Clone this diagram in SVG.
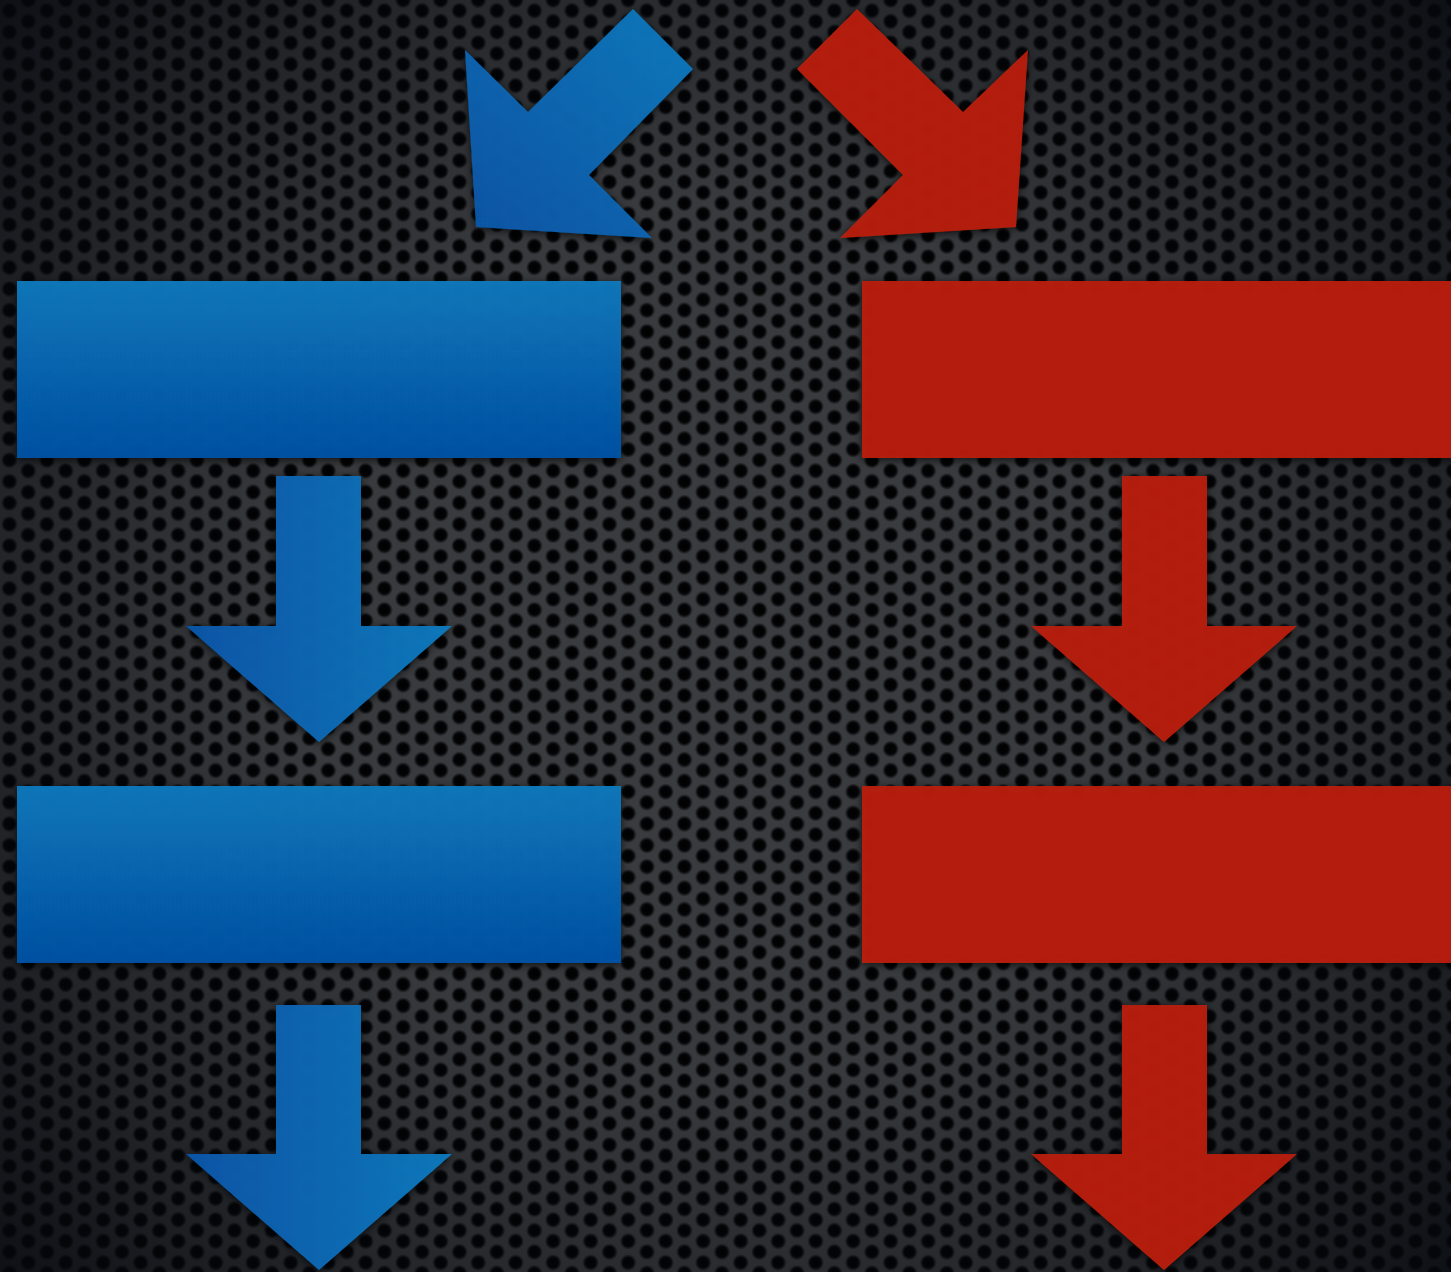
<svg xmlns="http://www.w3.org/2000/svg" width="1451" height="1272" viewBox="0 0 1451 1272">
  <defs>
    <radialGradient id="hole" cx="0.5" cy="0.5" r="0.5">
      <stop offset="0" stop-color="#000" stop-opacity="1"/>
      <stop offset="0.62" stop-color="#020204" stop-opacity="0.97"/>
      <stop offset="1" stop-color="#000" stop-opacity="0"/>
    </radialGradient>
    <pattern id="mesh" x="0" y="0" width="37.5" height="21.4" patternUnits="userSpaceOnUse">
      <circle cx="9.4" cy="10.7" r="8.4" fill="url(#hole)"/>
      <circle cx="28.15" cy="0" r="8.4" fill="url(#hole)"/>
      <circle cx="28.15" cy="21.4" r="8.4" fill="url(#hole)"/>
    </pattern>
    <radialGradient id="vignette" cx="725" cy="640" r="980" gradientUnits="userSpaceOnUse">
      <stop offset="0" stop-color="#04070c" stop-opacity="0"/>
      <stop offset="0.45" stop-color="#04070c" stop-opacity="0.05"/>
      <stop offset="0.75" stop-color="#04070c" stop-opacity="0.45"/>
      <stop offset="1" stop-color="#04070c" stop-opacity="0.85"/>
    </radialGradient>
    <linearGradient id="blueRect" x1="0" y1="0" x2="0" y2="1">
      <stop offset="0" stop-color="#087abe"/>
      <stop offset="1" stop-color="#0652a6"/>
    </linearGradient>
    <linearGradient id="blueArrow" x1="0" y1="1" x2="1" y2="0">
      <stop offset="0" stop-color="#0755a8"/>
      <stop offset="1" stop-color="#0a7cc0"/>
    </linearGradient>
    <linearGradient id="blueDown" x1="0" y1="0.5" x2="1" y2="0.5">
      <stop offset="0" stop-color="#0757aa"/>
      <stop offset="1" stop-color="#0a7bc0"/>
    </linearGradient>
    <filter id="shadow" x="-10%" y="-10%" width="120%" height="120%">
      <feDropShadow dx="0" dy="2" stdDeviation="4" flood-color="#000" flood-opacity="0.75"/>
    </filter>
    <style>
      .blue-rect { fill: url(#blueRect); fill-opacity: 0.94; filter: url(#shadow); }
      .red-rect { fill: #ba1f08; fill-opacity: 0.94; filter: url(#shadow); }
      .blue-arrow { fill: url(#blueArrow); fill-opacity: 0.94; filter: url(#shadow); }
      .blue-down { fill: url(#blueDown); fill-opacity: 0.94; filter: url(#shadow); }
      .red-arrow { fill: #b91f0a; fill-opacity: 0.94; filter: url(#shadow); }
    </style>
  </defs>

  <!-- background -->
  <rect x="0" y="0" width="1451" height="1272" fill="#3a3c3f"/>
  <rect x="0" y="0" width="1451" height="1272" fill="url(#mesh)"/>
  <rect x="0" y="0" width="1451" height="1272" fill="url(#vignette)"/>

  <g id="node-blue-1"><rect class="blue-rect" x="17" y="281" width="604" height="177"/></g>
  <g id="node-blue-2"><rect class="blue-rect" x="17" y="786" width="604" height="177"/></g>
  <g id="node-red-1"><rect class="red-rect" x="862" y="281" width="600" height="177"/></g>
  <g id="node-red-2"><rect class="red-rect" x="862" y="786" width="600" height="177"/></g>

  <g id="connectors">
    <polygon class="blue-arrow" points="633,9 693,69 589,175 652,238 476,227 465,50 528,112"/>
    <polygon class="red-arrow" points="857,9 797,69 903,175 840,238 1016,227 1028,50 963,112"/>
    <polygon class="blue-down" points="276,476 361,476 361,626 452,626 319,742 186,626 276,626"/>
    <polygon class="blue-down" points="276,1005 361,1005 361,1154 452,1154 319,1270 186,1154 276,1154"/>
    <polygon class="red-arrow" points="1122,476 1207,476 1207,626 1297,626 1164,742 1031,626 1122,626"/>
    <polygon class="red-arrow" points="1122,1005 1207,1005 1207,1154 1297,1154 1164,1270 1031,1154 1122,1154"/>
  </g>
</svg>
